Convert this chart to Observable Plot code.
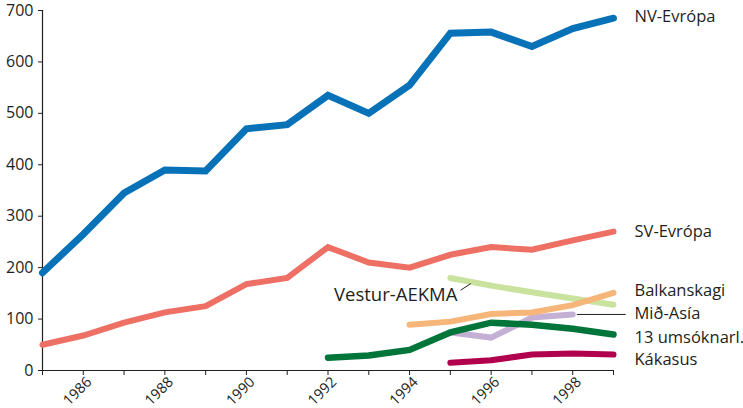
<!DOCTYPE html>
<html>
<head>
<meta charset="utf-8">
<script src="https://cdn.jsdelivr.net/npm/d3@7"></script>
<script src="https://cdn.jsdelivr.net/npm/@observablehq/plot@0.6"></script>
<style>
  html, body { margin: 0; padding: 0; background: #fff; }
  #chart svg { display: block; }
</style>
</head>
<body>
<div id="chart"></div>
<script>
// ---- Data ----
const years = [1985, 1986, 1987, 1988, 1989, 1990, 1991, 1992, 1993, 1994, 1995, 1996, 1997, 1998, 1999];
const nvEvropa = [190, 265, 345, 390, 388, 470, 478, 535, 500, 555, 656, 658, 630, 665, 685];
const svEvropa = [50, 68, 93, 113, 125, 168, 180, 240, 210, 200, 225, 240, 235, 253, 270];

const vesturYears = [1995, 1996, 1997, 1998, 1999];
const vesturAekma = [180, 165, 152, 140, 128];

const balkanYears = [1994, 1995, 1996, 1997, 1998, 1999];
const balkanskagi = [89, 95, 110, 113, 127, 151];

const midAsiaYears = [1995, 1996, 1997, 1998];
const midAsia = [74, 64, 103, 109];

const umsoknYears = [1992, 1993, 1994, 1995, 1996, 1997, 1998, 1999];
const umsoknarl = [25, 29, 40, 74, 93, 89, 81, 70];

const kakasusYears = [1995, 1996, 1997, 1998, 1999];
const kakasus = [15, 20, 31, 33, 31];

const yTicks = [0, 100, 200, 300, 400, 500, 600, 700];
const xTicks = years;
const xTickLabels = [1986, 1988, 1990, 1992, 1994, 1996, 1998];

// ---- Build series table ----
const seriesDefs = [
  {name: "Vestur-AEKMA", yrs: vesturYears, vals: vesturAekma, color: "#c9e29e", width: 6},
  {name: "Mið-Asía", yrs: midAsiaYears, vals: midAsia, color: "#c4b0d5", width: 6},
  {name: "Balkanskagi", yrs: balkanYears, vals: balkanskagi, color: "#f6b679", width: 6},
  {name: "13 umsóknarl.", yrs: umsoknYears, vals: umsoknarl, color: "#00753a", width: 6.5},
  {name: "Kákasus", yrs: kakasusYears, vals: kakasus, color: "#b1004e", width: 6},
  {name: "SV-Evrópa", yrs: years, vals: svEvropa, color: "#ee6f63", width: 6},
  {name: "NV-Evrópa", yrs: years, vals: nvEvropa, color: "#0872b8", width: 7}
];
const rows = seriesDefs.flatMap(s => s.yrs.map((y, i) => ({name: s.name, year: y, value: s.vals[i]})));
const lastOf = Object.fromEntries(seriesDefs.map(s => [s.name, {year: s.yrs[s.yrs.length - 1], value: s.vals[s.vals.length - 1]}]));
const firstOf = Object.fromEntries(seriesDefs.map(s => [s.name, {year: s.yrs[0], value: s.vals[0]}]));

// Right-hand labels: nudges (in value units) to avoid overlaps, as in the reference
const rightLabels = ["NV-Evrópa", "SV-Evrópa", "Balkanskagi", "Mið-Asía", "13 umsóknarl.", "Kákasus"];
const nudge = {"NV-Evrópa": 2, "SV-Evrópa": 0, "Balkanskagi": 5, "Mið-Asía": 2, "13 umsóknarl.": -6, "Kákasus": -10};
const xMax = d3.max(years), xMin = d3.min(years);
const labelRows = rightLabels.map(n => ({name: n, year: xMax, value: lastOf[n].value + nudge[n]}));

const va = firstOf["Vestur-AEKMA"];
const ma = lastOf["Mið-Asía"];

const font = "'Open Sans', 'Noto Sans', sans-serif";
const ink = "#231f20";

const lineMarks = seriesDefs.map(s => Plot.line(rows.filter(r => r.name === s.name), {
  x: "year", y: "value", stroke: s.color, strokeWidth: s.width,
  strokeLinecap: "round", strokeLinejoin: "miter", strokeMiterlimit: 3
}));

const chart = Plot.plot({
  width: 743,
  height: 408,
  marginLeft: 42,
  marginRight: 130,
  marginTop: 10,
  marginBottom: 38,
  style: {fontFamily: font, fontSize: "16px", color: ink, background: "#fff", overflow: "visible"},
  x: {domain: [xMin, xMax], label: null},
  y: {domain: [0, 700], label: null},
  marks: [
    Plot.axisY({ticks: yTicks, tickSize: 4, tickPadding: 5, fontSize: 16, label: null, stroke: ink, fill: ink}),
    // x ticks (every year)
    Plot.axisX({ticks: xTicks, tickSize: 5, tickFormat: () => "", label: null, stroke: ink}),
    // x tick labels (even years), rotated
    Plot.axisX({ticks: xTickLabels, tickSize: 0, tickPadding: 9, tickRotate: -45, fontSize: 14.5, label: null, dx: 6,
      tickFormat: d => String(d), fill: ink}),
    Plot.ruleX([xMin], {stroke: ink, strokeWidth: 1.2}),
    Plot.ruleY([0], {stroke: ink, strokeWidth: 1.2}),
    ...lineMarks,
    // Leader lines
    Plot.link([va], {x1: d => d.year + 0.25, y1: d => d.value - 24, x2: d => d.year + 0.5, y2: d => d.value - 11, stroke: ink, strokeWidth: 1}),
    Plot.link([ma], {x1: d => d.year + 0.1, y1: d => d.value, x2: d => d.year + 1.3, y2: d => d.value, stroke: ink, strokeWidth: 1}),
    // Labels
    Plot.text(labelRows, {x: "year", y: "value", text: "name", dx: 21, textAnchor: "start", fontSize: 16.5, fill: ink}),
    Plot.text([va], {x: "year", y: d => d.value - 34, text: () => "Vestur-AEKMA", dx: 7, textAnchor: "end", fontSize: 18.5, fill: ink})
  ]
});
document.getElementById("chart").appendChild(chart);
</script>
</body>
</html>
